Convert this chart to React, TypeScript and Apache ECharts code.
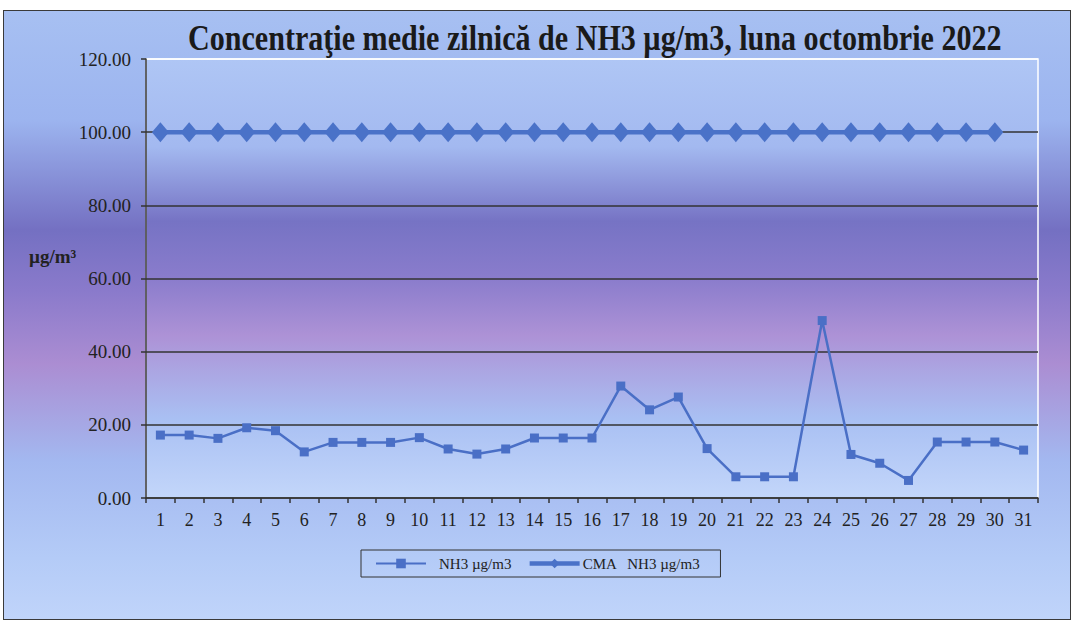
import React, { useEffect, useRef } from "react";
import * as echarts from "echarts";

const days = Array.from({ length: 31 }, (_, i) => String(i + 1));
const nh3Values = [
  17.2, 17.2, 16.3, 19.2, 18.4, 12.6, 15.2, 15.2, 15.2, 16.5, 13.4, 12.0, 13.4, 16.4, 16.4, 16.4,
  30.6, 24.1, 27.6, 13.5, 5.8, 5.8, 5.8, 48.5, 11.9, 9.5, 4.8, 15.3, 15.3, 15.3, 13.1,
];
const cmaValues = [
  100, 100, 100, 100, 100, 100, 100, 100, 100, 100, 100, 100, 100, 100, 100, 100,
  100, 100, 100, 100, 100, 100, 100, 100, 100, 100, 100, 100, 100, 100, null,
];
const titleText = "Concentraţie medie zilnică de NH3 µg/m3, luna octombrie 2022";
const seriesNames = ["NH3 µg/m3", "CMA   NH3 µg/m3"];
const yAxisTitle = "µg/m³";

const SERIF = "'Liberation Serif', 'Times New Roman', serif";

export default function App() {
  const ref = useRef<HTMLDivElement>(null);
  useEffect(() => {
    if (!ref.current) return;
    const chart = echarts.init(ref.current, null, { renderer: "svg" });
    chart.setOption({
      animation: false,
      backgroundColor: "transparent",
      graphic: [
        {
          type: "text",
          x: 188,
          y: 38.5,
          scaleX: 0.86,
          style: {
            text: titleText,
            font: `bold 35px ${SERIF}`,
            fill: "#1a1a1a",
            align: "left",
            verticalAlign: "middle",
          },
        },
        {
          type: "text",
          x: 29,
          y: 256,
          style: {
            text: yAxisTitle,
            font: `bold 19px ${SERIF}`,
            fill: "#222",
            align: "left",
            verticalAlign: "middle",
          },
        },
      ],
      legend: {
        left: 361,
        top: 550,
        borderColor: "#333",
        borderWidth: 1,
        padding: [6, 20, 6, 14],
        itemWidth: 50,
        itemHeight: 12,
        itemGap: 16,
        textStyle: { fontFamily: SERIF, fontSize: 15, color: "#222" },
        data: [
          {
            name: seriesNames[0],
            textStyle: { padding: [0, 0, 0, 8] },
          },
          {
            name: seriesNames[1],
            lineStyle: { width: 4.5 },
            textStyle: { padding: [0, 0, 0, -2] },
          },
        ],
      },
      grid: {
        left: 146,
        right: 39,
        top: 59,
        bottom: 129,
        show: true,
        borderColor: "#ffffff",
        borderWidth: 1.5,
        backgroundColor: new echarts.graphic.LinearGradient(0, 0, 0, 1, [
          { offset: 0, color: "#afc6f5" },
          { offset: 0.2, color: "#a3b9f0" },
          { offset: 0.37, color: "#7673c4" },
          { offset: 0.5, color: "#8a7ccc" },
          { offset: 0.63, color: "#ad92d6" },
          { offset: 0.82, color: "#a9c0f3" },
          { offset: 1, color: "#c3d6fa" },
        ]),
      },
      xAxis: {
        type: "category",
        data: days,
        boundaryGap: true,
        axisLine: { lineStyle: { color: "#333", width: 1.5 } },
        axisTick: { show: true, length: 5, lineStyle: { color: "#333", width: 1.5 } },
        axisLabel: { margin: 13, fontFamily: SERIF, fontSize: 18, color: "#222" },
      },
      yAxis: {
        type: "value",
        min: 0,
        max: 120,
        interval: 20,
        axisLine: { show: true, lineStyle: { color: "#333", width: 1.5 } },
        axisTick: { show: true, length: 5, lineStyle: { color: "#333", width: 1.5 } },
        axisLabel: {
          margin: 15,
          fontFamily: SERIF,
          fontSize: 19,
          color: "#222",
          formatter: (v: number) => v.toFixed(2),
        },
        splitLine: {
          show: true,
          lineStyle: {
            color: ["#333", "#333", "#333", "#333", "#333", "#333", "#ffffff"],
            width: 1.5,
          },
        },
      },
      series: [
        {
          name: seriesNames[0],
          type: "line",
          data: nh3Values,
          symbol: "rect",
          symbolSize: 9,
          lineStyle: { color: "#4a6fc6", width: 2.5 },
          itemStyle: { color: "#4a6fc6" },
          z: 3,
        },
        {
          name: seriesNames[1],
          type: "line",
          data: cmaValues,
          symbol: "diamond",
          symbolSize: [17, 20],
          lineStyle: { color: "#4a72c8", width: 4.5 },
          itemStyle: { color: "#4a72c8" },
          z: 2,
        },
      ],
    });
    return () => chart.dispose();
  }, []);

  return (
    <div style={{ position: "fixed", left: 0, top: 0, width: 1077, height: 627, background: "#ffffff" }}>
      <div
        style={{
          position: "absolute",
          left: 3,
          top: 10,
          width: 1066,
          height: 608,
          border: "1.5px solid #3a3a3a",
          background:
            "linear-gradient(to bottom, #a7c0f2 0%, #9cb4ef 18%, #7470c2 36%, #8a7acb 46%, #ab8dd2 58%, #a3b8f0 74%, #b4cbf7 90%, #c0d4fa 100%)",
        }}
      />
      <div ref={ref} style={{ position: "absolute", left: 0, top: 0, width: 1077, height: 627 }} />
    </div>
  );
}
